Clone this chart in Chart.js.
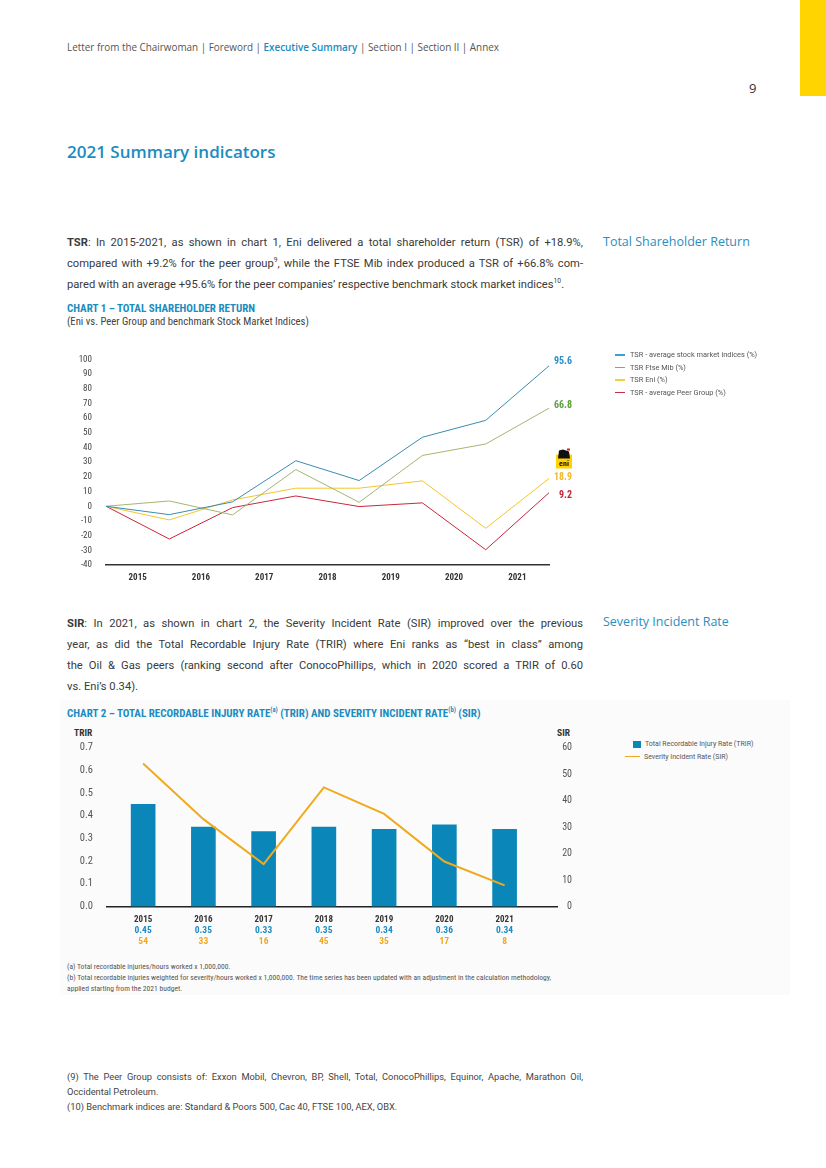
<!DOCTYPE html>
<html>
<head>
<meta charset="utf-8">
<script src="https://cdn.jsdelivr.net/npm/chart.js@4.4.0/dist/chart.umd.min.js"></script>
<style>
body { margin: 0; width: 826px; height: 1168px; position: relative; background: #fff; overflow: hidden; font-family: Roboto, sans-serif; color: #333; }
.abs { position: absolute; white-space: nowrap; }
.cond { font-family: 'Roboto Condensed', 'Liberation Sans Narrow', 'DejaVu Sans Condensed', Roboto, sans-serif; }
.hdr { font-family: 'Open Sans', sans-serif; font-size: 9.9px; color: #555; }
.hdr b { color: #1a8cc0; font-weight: 600; }
.para div { height: 21px; line-height: 21px; font-size: 11.2px; color: #3a3a3a; width: 516px; text-align: justify; text-align-last: justify; }
.para div.last { text-align-last: left; }
.side { font-family: 'Open Sans', sans-serif; font-size: 12.5px; color: #2a8fc0; }
.ctitle { font-weight: bold; font-size: 11px; color: #1a8cc0; }
.leg { font-size: 7.4px; color: #555; height: 12.5px; line-height: 12.5px; }
.leg span { display: inline-block; width: 10px; height: 1.2px; vertical-align: middle; margin-right: 5px; }
.fn { font-size: 7.6px; color: #555; line-height: 11px; }
.foot div { font-size: 9.3px; color: #444; width: 516px; height: 15px; line-height: 15px; text-align: justify; text-align-last: justify; }
.foot div.last { text-align-last: left; }
sup { font-size: 60%; line-height: 0; }
</style>
</head>
<body>
<div class="abs" style="left:800px;top:0;width:26px;height:96px;background:#ffd400"></div>
<div class="abs hdr" style="left:67px;top:40px">Letter from the Chairwoman | Foreword | <b>Executive Summary</b> | Section I | Section II | Annex</div>
<div class="abs" style="left:749px;top:79px;font-family:'Open Sans',sans-serif;font-size:13px;color:#333">9</div>
<div class="abs" style="left:67px;top:140px;font-family:'Open Sans',sans-serif;font-weight:600;font-size:17px;color:#1a8cc0">2021 Summary indicators</div>

<div class="abs para" style="left:67px;top:232px">
  <div><b>TSR</b>: In 2015-2021, as shown in chart 1, Eni delivered a total shareholder return (TSR) of +18.9%,</div>
  <div>compared with +9.2% for the peer group<sup>9</sup>, while the FTSE Mib index produced a TSR of +66.8% com-</div>
  <div class="last">pared with an average +95.6% for the peer companies’ respective benchmark stock market indices<sup>10</sup>.</div>
</div>
<div class="abs side" style="left:603px;top:233px">Total Shareholder Return</div>

<div class="abs cond ctitle" style="left:67px;top:302px">CHART 1 – TOTAL SHAREHOLDER RETURN</div>
<div class="abs cond" style="left:67px;top:315px;font-size:10.7px;color:#444">(Eni vs. Peer Group and benchmark Stock Market Indices)</div>

<div class="abs" style="left:60px;top:340px"><canvas id="tsrChart" width="560" height="250" style="width:560px;height:250px"></canvas></div>

<div class="abs" style="left:615px;top:349px">
  <div class="leg"><span style="background:#3aa0d5"></span>TSR - average stock market indices (%)</div>
  <div class="leg"><span style="background:#6cbf4a"></span>TSR Ftse Mib (%)</div>
  <div class="leg"><span style="background:#f2d038"></span>TSR Eni (%)</div>
  <div class="leg"><span style="background:#c83040"></span>TSR - average Peer Group (%)</div>
</div>

<div class="abs para" style="left:67px;top:613px">
  <div><b>SIR</b>: In 2021, as shown in chart 2, the Severity Incident Rate (SIR) improved over the previous</div>
  <div>year, as did the Total Recordable Injury Rate (TRIR) where Eni ranks as “best in class” among</div>
  <div>the Oil &amp; Gas peers (ranking second after ConocoPhillips, which in 2020 scored a TRIR of 0.60</div>
  <div class="last">vs. Eni’s 0.34).</div>
</div>
<div class="abs side" style="left:603px;top:613px">Severity Incident Rate</div>

<div class="abs" style="left:60px;top:700px;width:730px;height:295px;background:#fbfbfb"></div>
<div class="abs cond ctitle" style="left:67px;top:707px">CHART 2 – TOTAL RECORDABLE INJURY RATE<sup>(a)</sup> (TRIR) AND SEVERITY INCIDENT RATE<sup>(b)</sup> (SIR)</div>
<div class="abs cond" style="left:74px;top:727px;font-size:9.5px;font-weight:bold;color:#333">TRIR</div>
<div class="abs cond" style="left:557px;top:727px;font-size:9.5px;font-weight:bold;color:#333">SIR</div>

<div class="abs" style="left:60px;top:725px"><canvas id="safetyChart" width="560" height="230" style="width:560px;height:230px"></canvas></div>

<div class="abs" style="left:625px;top:738px">
  <div class="leg" style="font-size:7px"><span style="width:8px;height:7px;background:#0a87b8;margin-left:8px;margin-right:4px"></span>Total Recordable Injury Rate (TRIR)</div>
  <div class="leg" style="font-size:7px"><span style="width:15px;height:1.5px;background:#f0aa1e;margin-right:4px"></span>Severity Incident Rate (SIR)</div>
</div>

<div class="abs cond fn" style="left:67px;top:961px">(a) Total recordable injuries/hours worked x 1,000,000.<br>(b) Total recordable injuries weighted for severity/hours worked x 1,000,000. The time series has been updated with an adjustment in the calculation methodology,<br>applied starting from the 2021 budget.</div>

<div class="abs foot" style="left:67px;top:1069px">
  <div>(9) The Peer Group consists of: Exxon Mobil, Chevron, BP, Shell, Total, ConocoPhillips, Equinor, Apache, Marathon Oil,</div>
  <div class="last">Occidental Petroleum.</div>
  <div class="last">(10) Benchmark indices are: Standard &amp; Poors 500, Cac 40, FTSE 100, AEX, OBX.</div>
</div>

<script>
// Chart 1 data - cumulative TSR, first point is the 2015 start
const tsrYears = ['2015', '2016', '2017', '2018', '2019', '2020', '2021'];
const tsrIndices = [0, -5.7, 3, 31, 17.5, 47, 58.5, 95.6];
const tsrFtseMib = [0, 3.6, -5.9, 25, 2.7, 34.6, 42.4, 66.8];
const tsrEni = [0, -9.3, 4.3, 12.3, 12.3, 17.3, -15, 18.9];
const tsrPeers = [0, -22.3, -0.9, 7, -0.2, 2.3, -29.6, 9.2];

// Chart 2 data
const safetyYears = ['2015', '2016', '2017', '2018', '2019', '2020', '2021'];
const trirValues = [0.45, 0.35, 0.33, 0.35, 0.34, 0.36, 0.34];
const sirValues = [54, 33, 16, 45, 35, 17, 8];

const condFont = "'Roboto Condensed', 'Liberation Sans Narrow', 'DejaVu Sans Condensed', Roboto, sans-serif";

document.addEventListener('DOMContentLoaded', function() {
    initializeTsrChart();
    initializeSafetyChart();
});

function toPoints(values) {
    return values.map((v, i) => ({ x: i, y: v }));
}

// End-of-line labels and the Eni logo
const tsrEndLabels = {
    id: 'tsrEndLabels',
    afterDatasetsDraw(chart) {
        const ctx = chart.ctx;
        const y = chart.scales.y;
        const right = chart.chartArea.right + 23;
        const items = [
            { v: tsrIndices[7], color: '#2a8fc4', dy: -4 },
            { v: tsrFtseMib[7], color: '#5aa040', dy: -3 },
            { v: tsrEni[7], color: '#f2b830', dy: -1 },
            { v: tsrPeers[7], color: '#c0283a', dy: 3 }
        ];
        ctx.save();
        ctx.font = 'bold 10px ' + condFont;
        ctx.textAlign = 'right';
        ctx.textBaseline = 'middle';
        items.forEach(it => {
            ctx.fillStyle = it.color;
            ctx.fillText(it.v.toFixed(1), right, y.getPixelForValue(it.v) + it.dy);
        });
        // small eni logo
        const lx = right - 16, ly = y.getPixelForValue(tsrEni[7]) - 30;
        ctx.fillStyle = '#ffd200';
        ctx.fillRect(lx, ly + 6, 16, 14);
        ctx.fillStyle = '#111';
        ctx.beginPath();
        ctx.moveTo(lx + 2, ly + 10);
        ctx.lineTo(lx + 3, ly + 2);
        ctx.lineTo(lx + 7, ly + 1);
        ctx.lineTo(lx + 13, ly + 3);
        ctx.lineTo(lx + 14, ly + 10);
        ctx.closePath();
        ctx.fill();
        ctx.fillStyle = '#d0202a';
        ctx.fillRect(lx + 11, ly, 3, 2);
        ctx.fillStyle = '#111';
        ctx.font = 'bold 8px ' + condFont;
        ctx.textAlign = 'center';
        ctx.fillText('eni', lx + 8, ly + 15);
        ctx.restore();
    }
};

function initializeTsrChart() {
    const lineStyle = { borderWidth: 1, pointRadius: 0, tension: 0, fill: false };
    new Chart(document.getElementById('tsrChart').getContext('2d'), {
        type: 'line',
        data: {
            datasets: [
                Object.assign({ label: 'TSR - average stock market indices (%)', data: toPoints(tsrIndices), borderColor: '#3a8cb0' }, lineStyle),
                Object.assign({ label: 'TSR Ftse Mib (%)', data: toPoints(tsrFtseMib), borderColor: '#a4b670' }, lineStyle),
                Object.assign({ label: 'TSR Eni (%)', data: toPoints(tsrEni), borderColor: '#f4c52c' }, lineStyle),
                Object.assign({ label: 'TSR - average Peer Group (%)', data: toPoints(tsrPeers), borderColor: '#c8283a' }, lineStyle)
            ]
        },
        options: {
            responsive: false,
            animation: false,
            layout: { padding: { top: 18, right: 71, left: 0, bottom: 0 } },
            plugins: { legend: { display: false }, tooltip: { enabled: false } },
            scales: {
                x: {
                    type: 'linear', min: 0, max: 7,
                    grid: { display: false, drawTicks: false },
                    border: { display: true, color: '#333', width: 1.5 },
                    afterBuildTicks: (scale) => { scale.ticks = tsrYears.map((yr, i) => ({ value: i + 0.5 })); },
                    afterFit: (scale) => { scale.height = 25; },
                    ticks: {
                        autoSkip: false, maxRotation: 0, padding: 7,
                        color: '#333',
                        font: { family: condFont, size: 9, weight: 'bold' },
                        callback: (v, i) => tsrYears[i]
                    }
                },
                y: {
                    min: -40, max: 100,
                    grid: { display: false, drawTicks: false },
                    border: { display: false },
                    afterFit: (scale) => { scale.width = 46; },
                    ticks: { stepSize: 10, padding: 14, color: '#444', font: { family: condFont, size: 9 } }
                }
            }
        },
        plugins: [tsrEndLabels]
    });
}

// Year / TRIR / SIR rows under the bars
const safetyLabels = {
    id: 'safetyLabels',
    afterDraw(chart) {
        const ctx = chart.ctx;
        const x = chart.scales.x;
        const base = chart.chartArea.bottom;
        ctx.save();
        ctx.textAlign = 'center';
        ctx.textBaseline = 'middle';
        safetyYears.forEach((yr, i) => {
            const px = x.getPixelForValue(i);
            ctx.font = 'bold 9px ' + condFont;
            ctx.fillStyle = '#333';
            ctx.fillText(yr, px, base + 13.5);
            ctx.font = 'bold 9.5px ' + condFont;
            ctx.fillStyle = '#1a8cc4';
            ctx.fillText(trirValues[i].toFixed(2), px, base + 24.5);
            ctx.fillStyle = '#f0a820';
            ctx.fillText(String(sirValues[i]), px, base + 35.5);
        });
        ctx.restore();
    }
};

function initializeSafetyChart() {
    new Chart(document.getElementById('safetyChart').getContext('2d'), {
        type: 'bar',
        data: {
            datasets: [
                {
                    type: 'line',
                    label: 'Severity Incident Rate (SIR)',
                    data: toPoints(sirValues),
                    yAxisID: 'ySir',
                    borderColor: '#f0aa1e',
                    borderWidth: 2,
                    pointRadius: 0,
                    tension: 0,
                    order: 0
                },
                {
                    label: 'Total Recordable Injury Rate (TRIR)',
                    data: toPoints(trirValues),
                    yAxisID: 'y',
                    backgroundColor: '#0a87b8',
                    barThickness: 24,
                    order: 1
                }
            ]
        },
        options: {
            responsive: false,
            animation: false,
            layout: { padding: { top: 22.7, right: 48, left: 0, bottom: 0 } },
            plugins: { legend: { display: false }, tooltip: { enabled: false } },
            scales: {
                x: {
                    type: 'linear', min: -0.6, max: 6.87, offset: false,
                    grid: { display: false, drawTicks: false },
                    border: { display: true, color: '#222', width: 1.5 },
                    ticks: { display: false },
                    afterFit: (scale) => { scale.height = 48.5; }
                },
                y: {
                    position: 'left', min: 0, max: 0.7,
                    grid: { display: false, drawTicks: false },
                    border: { display: false },
                    afterFit: (scale) => { scale.width = 47; },
                    ticks: {
                        stepSize: 0.1, padding: 14, color: '#555',
                        font: { family: condFont, size: 10.5 },
                        callback: (v) => v.toFixed(1)
                    }
                },
                ySir: {
                    position: 'right', min: 0, max: 60,
                    grid: { display: false, drawTicks: false },
                    border: { display: false },
                    afterFit: (scale) => { scale.width = 15; },
                    ticks: {
                        stepSize: 10, crossAlign: 'far', color: '#555',
                        font: { family: condFont, size: 10 }
                    }
                }
            }
        },
        plugins: [safetyLabels]
    });
}
</script>
</body>
</html>
